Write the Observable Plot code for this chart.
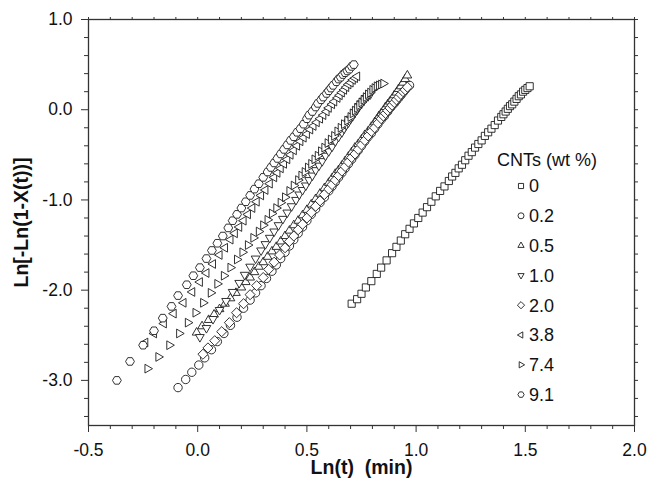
<!DOCTYPE html>
<html><head><meta charset="utf-8">
<script src="https://cdn.jsdelivr.net/npm/d3@7"></script>
<script src="https://cdn.jsdelivr.net/npm/@observablehq/plot@0.6"></script>
<style>
body{margin:0;background:#fff;}
svg{font-family:Arial,"Liberation Sans",sans-serif;}
</style>
</head><body><div id="chart"></div>
<script>
// ---- text / ticks ----
const legendTitle = "CNTs (wt %)";
const legendLabels = ["0","0.2","0.5","1.0","2.0","3.8","7.4","9.1"];
const xLabel = "Ln(t)\u00a0\u00a0(min)";
const yLabel = "Ln[-Ln(1-X(t))]";
const xMajor = [-0.5,0,0.5,1,1.5,2];
const xMinor = [-0.4,-0.3,-0.2,-0.1,0.1,0.2,0.3,0.4,0.6,0.7,0.8,0.9,1.1,1.2,1.3,1.4,1.6,1.7,1.8,1.9];
const yMajor = [1,0,-1,-2,-3];
const yMinor = [0.8,0.6,0.4,0.2,-0.2,-0.4,-0.6,-0.8,-1.2,-1.4,-1.6,-1.8,-2.2,-2.4,-2.6,-2.8,-3.2,-3.4];

// ---- series: [Ln(t), Ln(-Ln(1-X))] ----
const s0 = [[0.705,-2.15],[0.73,-2.10],[0.75,-2.04],[0.77,-1.97],[0.795,-1.90],[0.82,-1.82],[0.84,-1.75],[0.865,-1.67],[0.89,-1.59],[0.91,-1.52],[0.93,-1.45],[0.95,-1.38],[0.97,-1.32],[0.99,-1.26],[1.01,-1.20],[1.03,-1.14],[1.05,-1.08],[1.07,-1.02],[1.09,-0.96],[1.11,-0.90],[1.13,-0.85],[1.15,-0.79],[1.165,-0.74],[1.18,-0.70],[1.195,-0.65],[1.21,-0.61],[1.225,-0.56],[1.24,-0.51],[1.255,-0.47],[1.27,-0.42],[1.285,-0.38],[1.30,-0.34],[1.315,-0.29],[1.33,-0.25],[1.345,-0.21],[1.36,-0.17],[1.375,-0.12],[1.39,-0.08],[1.40,-0.05],[1.41,-0.02],[1.42,0.01],[1.43,0.04],[1.44,0.06],[1.45,0.09],[1.46,0.12],[1.47,0.15],[1.48,0.17],[1.49,0.20],[1.50,0.22],[1.51,0.24],[1.52,0.26]];
const s02 = [[-0.09,-3.08],[-0.055,-2.99],[-0.027,-2.91],[0.005,-2.83],[0.032,-2.75],[0.063,-2.66],[0.09,-2.57],[0.12,-2.48],[0.15,-2.39],[0.18,-2.30],[0.21,-2.20],[0.24,-2.11],[0.265,-2.03],[0.29,-1.95],[0.315,-1.87],[0.34,-1.79],[0.36,-1.72],[0.38,-1.65],[0.40,-1.58],[0.42,-1.51],[0.44,-1.44],[0.46,-1.37],[0.48,-1.30],[0.50,-1.23],[0.52,-1.16],[0.54,-1.10],[0.56,-1.03],[0.58,-0.97],[0.60,-0.90],[0.615,-0.85],[0.63,-0.80],[0.645,-0.75],[0.66,-0.70],[0.675,-0.65],[0.69,-0.60],[0.705,-0.55],[0.72,-0.50],[0.735,-0.45],[0.75,-0.40],[0.765,-0.35],[0.78,-0.30],[0.795,-0.26],[0.81,-0.21],[0.825,-0.16],[0.84,-0.11],[0.855,-0.07],[0.87,-0.02],[0.885,0.03],[0.90,0.07],[0.91,0.10],[0.92,0.13],[0.93,0.16],[0.94,0.19],[0.95,0.22],[0.96,0.25],[0.97,0.27]];
const s05 = [[-0.005,-2.47],[0.02,-2.40],[0.05,-2.33],[0.075,-2.27],[0.10,-2.21],[0.125,-2.15],[0.15,-2.09],[0.175,-2.03],[0.20,-1.97],[0.22,-1.91],[0.24,-1.86],[0.26,-1.80],[0.28,-1.74],[0.30,-1.69],[0.32,-1.63],[0.34,-1.57],[0.36,-1.52],[0.38,-1.46],[0.40,-1.40],[0.42,-1.34],[0.44,-1.28],[0.46,-1.23],[0.48,-1.17],[0.50,-1.11],[0.52,-1.05],[0.54,-0.99],[0.56,-0.93],[0.58,-0.87],[0.60,-0.81],[0.615,-0.76],[0.63,-0.71],[0.645,-0.67],[0.66,-0.62],[0.675,-0.57],[0.69,-0.52],[0.705,-0.47],[0.72,-0.42],[0.735,-0.38],[0.75,-0.33],[0.765,-0.28],[0.78,-0.24],[0.795,-0.19],[0.81,-0.14],[0.82,-0.11],[0.83,-0.07],[0.84,-0.04],[0.85,-0.01],[0.86,0.03],[0.87,0.06],[0.88,0.09],[0.89,0.12],[0.90,0.16],[0.91,0.19],[0.92,0.23],[0.93,0.26],[0.94,0.30],[0.95,0.34],[0.96,0.38]];
const s10 = [[0.01,-2.52],[0.04,-2.42],[0.07,-2.32],[0.10,-2.22],[0.13,-2.12],[0.16,-2.02],[0.19,-1.92],[0.215,-1.83],[0.24,-1.74],[0.265,-1.65],[0.29,-1.56],[0.31,-1.49],[0.33,-1.42],[0.35,-1.35],[0.37,-1.28],[0.39,-1.21],[0.41,-1.14],[0.43,-1.07],[0.45,-1.00],[0.465,-0.94],[0.48,-0.89],[0.495,-0.84],[0.51,-0.78],[0.525,-0.73],[0.54,-0.67],[0.555,-0.62],[0.57,-0.57],[0.585,-0.51],[0.60,-0.46],[0.615,-0.41],[0.63,-0.35],[0.645,-0.30],[0.66,-0.25],[0.67,-0.21],[0.68,-0.17],[0.69,-0.14],[0.70,-0.10],[0.71,-0.07],[0.72,-0.03],[0.73,0.00],[0.74,0.04],[0.75,0.07],[0.76,0.10],[0.77,0.13],[0.78,0.15],[0.79,0.17]];
const s20 = [[0.024,-2.71],[0.047,-2.64],[0.078,-2.56],[0.11,-2.46],[0.145,-2.36],[0.178,-2.25],[0.21,-2.15],[0.24,-2.05],[0.27,-1.95],[0.30,-1.86],[0.325,-1.77],[0.35,-1.69],[0.375,-1.61],[0.40,-1.53],[0.42,-1.46],[0.44,-1.40],[0.46,-1.33],[0.48,-1.27],[0.50,-1.20],[0.52,-1.14],[0.54,-1.07],[0.56,-1.01],[0.58,-0.94],[0.60,-0.88],[0.615,-0.83],[0.63,-0.78],[0.645,-0.73],[0.66,-0.68],[0.675,-0.63],[0.69,-0.58],[0.705,-0.53],[0.72,-0.49],[0.735,-0.44],[0.75,-0.39],[0.765,-0.34],[0.78,-0.29],[0.795,-0.24],[0.81,-0.20],[0.825,-0.15],[0.84,-0.10],[0.85,-0.07],[0.86,-0.04],[0.87,-0.01],[0.88,0.02],[0.89,0.05],[0.90,0.08],[0.91,0.11],[0.92,0.14],[0.93,0.17],[0.94,0.20],[0.95,0.22],[0.96,0.25]];
const s38 = [[-0.24,-2.58],[-0.20,-2.48],[-0.155,-2.37],[-0.11,-2.26],[-0.065,-2.14],[-0.025,-2.02],[0.01,-1.91],[0.04,-1.81],[0.07,-1.71],[0.10,-1.61],[0.125,-1.53],[0.15,-1.44],[0.17,-1.37],[0.19,-1.30],[0.21,-1.23],[0.23,-1.16],[0.25,-1.09],[0.27,-1.02],[0.29,-0.95],[0.31,-0.89],[0.33,-0.82],[0.35,-0.75],[0.365,-0.70],[0.38,-0.65],[0.395,-0.60],[0.41,-0.55],[0.425,-0.50],[0.44,-0.45],[0.455,-0.40],[0.47,-0.35],[0.485,-0.31],[0.50,-0.27],[0.515,-0.22],[0.53,-0.18],[0.545,-0.14],[0.56,-0.10],[0.575,-0.06],[0.59,-0.02],[0.60,0.02],[0.615,0.06],[0.625,0.09],[0.64,0.13],[0.65,0.16],[0.66,0.19],[0.67,0.22],[0.68,0.25],[0.69,0.28],[0.70,0.30],[0.71,0.33],[0.72,0.35],[0.73,0.37]];
const s74 = [[-0.23,-2.87],[-0.18,-2.74],[-0.13,-2.61],[-0.085,-2.48],[-0.045,-2.36],[-0.01,-2.25],[0.025,-2.14],[0.06,-2.03],[0.09,-1.93],[0.12,-1.84],[0.15,-1.75],[0.18,-1.66],[0.205,-1.58],[0.23,-1.50],[0.255,-1.42],[0.28,-1.35],[0.30,-1.28],[0.32,-1.22],[0.34,-1.15],[0.36,-1.09],[0.38,-1.03],[0.40,-0.97],[0.42,-0.90],[0.44,-0.84],[0.46,-0.78],[0.475,-0.73],[0.49,-0.69],[0.505,-0.64],[0.52,-0.60],[0.535,-0.55],[0.55,-0.51],[0.565,-0.46],[0.58,-0.42],[0.595,-0.37],[0.61,-0.33],[0.625,-0.29],[0.64,-0.24],[0.655,-0.20],[0.67,-0.16],[0.685,-0.12],[0.70,-0.08],[0.71,-0.04],[0.72,-0.01],[0.73,0.02],[0.74,0.05],[0.75,0.08],[0.76,0.11],[0.77,0.14],[0.78,0.17],[0.79,0.19],[0.80,0.22],[0.81,0.24],[0.82,0.26],[0.83,0.27],[0.84,0.28],[0.85,0.29]];
const s91 = [[-0.37,-3.00],[-0.31,-2.79],[-0.25,-2.61],[-0.20,-2.45],[-0.16,-2.31],[-0.12,-2.18],[-0.09,-2.06],[-0.05,-1.94],[-0.02,-1.84],[0.01,-1.75],[0.04,-1.65],[0.065,-1.56],[0.09,-1.48],[0.115,-1.40],[0.14,-1.31],[0.16,-1.23],[0.18,-1.16],[0.20,-1.09],[0.22,-1.02],[0.24,-0.95],[0.26,-0.88],[0.28,-0.82],[0.30,-0.75],[0.32,-0.69],[0.335,-0.64],[0.35,-0.59],[0.365,-0.54],[0.38,-0.49],[0.395,-0.44],[0.41,-0.39],[0.425,-0.34],[0.44,-0.30],[0.455,-0.25],[0.47,-0.21],[0.485,-0.16],[0.50,-0.10],[0.51,-0.06],[0.525,-0.02],[0.54,0.03],[0.55,0.07],[0.565,0.11],[0.575,0.14],[0.59,0.18],[0.60,0.21],[0.61,0.24],[0.62,0.27],[0.635,0.31],[0.645,0.34],[0.655,0.36],[0.665,0.39],[0.675,0.41],[0.685,0.43],[0.695,0.45],[0.705,0.48],[0.715,0.50]];

// ---- marker shapes (unit outlines, scaled by r) ----
const shape = (pts) => ({draw(ctx, size) {
  const r = Math.sqrt(size / Math.PI);
  pts.forEach(([a, b], i) => i ? ctx.lineTo(a * r, b * r) : ctx.moveTo(a * r, b * r));
  ctx.closePath();
}});
const symSquare = shape([[-0.85,-0.85],[0.85,-0.85],[0.85,0.85],[-0.85,0.85]]);
const symCircle = {draw(ctx, size){ const r = Math.sqrt(size/Math.PI); ctx.moveTo(r,0); ctx.arc(0,0,r,0,2*Math.PI); ctx.closePath(); }};
const symUp = shape([[0,-1.2],[1.04,0.6],[-1.04,0.6]]);
const symDown = shape([[0,1.2],[1.04,-0.6],[-1.04,-0.6]]);
const symDiamond = shape([[0,-1.2],[1.2,0],[0,1.2],[-1.2,0]]);
const symLeft = shape([[-1.2,0],[0.6,-1.04],[0.6,1.04]]);
const symRight = shape([[1.2,0],[-0.6,-1.04],[-0.6,1.04]]);
const symHex = shape([[1.05,0],[0.52,0.9],[-0.52,0.9],[-1.05,0],[-0.52,-0.9],[0.52,-0.9]]);

const seriesData = [s0, s02, s05, s10, s20, s38, s74, s91];
const seriesSymbols = [symSquare, symCircle, symUp, symDown, symDiamond, symLeft, symRight, symHex];

const ink = "#1c1c1c";
const plot = Plot.plot({
  width: 649,
  height: 491,
  marginLeft: 88,
  marginRight: 15,
  marginTop: 19,
  marginBottom: 66,
  style: {fontFamily: "Arial, 'Liberation Sans', sans-serif", background: "#fff", overflow: "visible"},
  x: {domain: [-0.5, 2]},
  y: {domain: [-3.5, 1]},
  marks: [
    ...seriesData.map((d, i) => Plot.dot(d, {
      x: p => p[0], y: p => p[1], symbol: seriesSymbols[i], r: 4.2,
      stroke: ink, strokeWidth: 0.9, fill: "white"
    })),
    Plot.frame({stroke: "#333", strokeWidth: 1.3}),
    Plot.axisX(xMajor, {tickSize: 7, tickPadding: 11, tickFormat: d => d.toFixed(1), fontSize: 17.5, label: null, stroke: "#333", fill: "#111"}),
    Plot.axisX(xMinor, {tickSize: 4, text: null, label: null, stroke: "#333"}),
    Plot.axisX([...xMajor, ...xMinor], {anchor: "top", tickSize: 3, text: null, label: null, stroke: "#333"}),
    Plot.axisY(yMajor, {tickSize: 7, tickPadding: 9, tickFormat: d => d.toFixed(1), fontSize: 17.5, label: null, stroke: "#333", fill: "#111"}),
    Plot.axisY(yMinor, {tickSize: 4, text: null, label: null, stroke: "#333"}),
    Plot.axisY([...yMajor, ...yMinor], {anchor: "right", tickSize: 3, text: null, label: null, stroke: "#333"}),
    Plot.text([xLabel], {frameAnchor: "bottom", dy: 42, textAnchor: "middle", lineAnchor: "middle", fontWeight: "bold", fontSize: 19.5, fill: "#111"}),
    Plot.text([yLabel], {frameAnchor: "left", dx: -67, rotate: -90, textAnchor: "middle", lineAnchor: "middle", fontWeight: "bold", fontSize: 19.5, fill: "#111"})
  ]
});

// ---- legend drawn inside the plot area ----
const svg = d3.select(plot);
const lg = svg.append("g").attr("font-size", 18).attr("fill", "#111").attr("text-anchor", "start");
lg.append("text").attr("x", 497).attr("y", 160).attr("dy", "0.35em").text(legendTitle);
legendLabels.forEach((lab, i) => {
  const y = 186 + i * 29.8;
  lg.append("path")
    .attr("transform", `translate(521,${y})`)
    .attr("d", d3.symbol(seriesSymbols[i], 9 * Math.PI)())
    .attr("fill", "white").attr("stroke", ink).attr("stroke-width", 0.9);
  lg.append("text").attr("x", 529).attr("y", y).attr("dy", "0.35em").text(lab);
});

document.getElementById("chart").appendChild(plot);
</script>
</body></html>
